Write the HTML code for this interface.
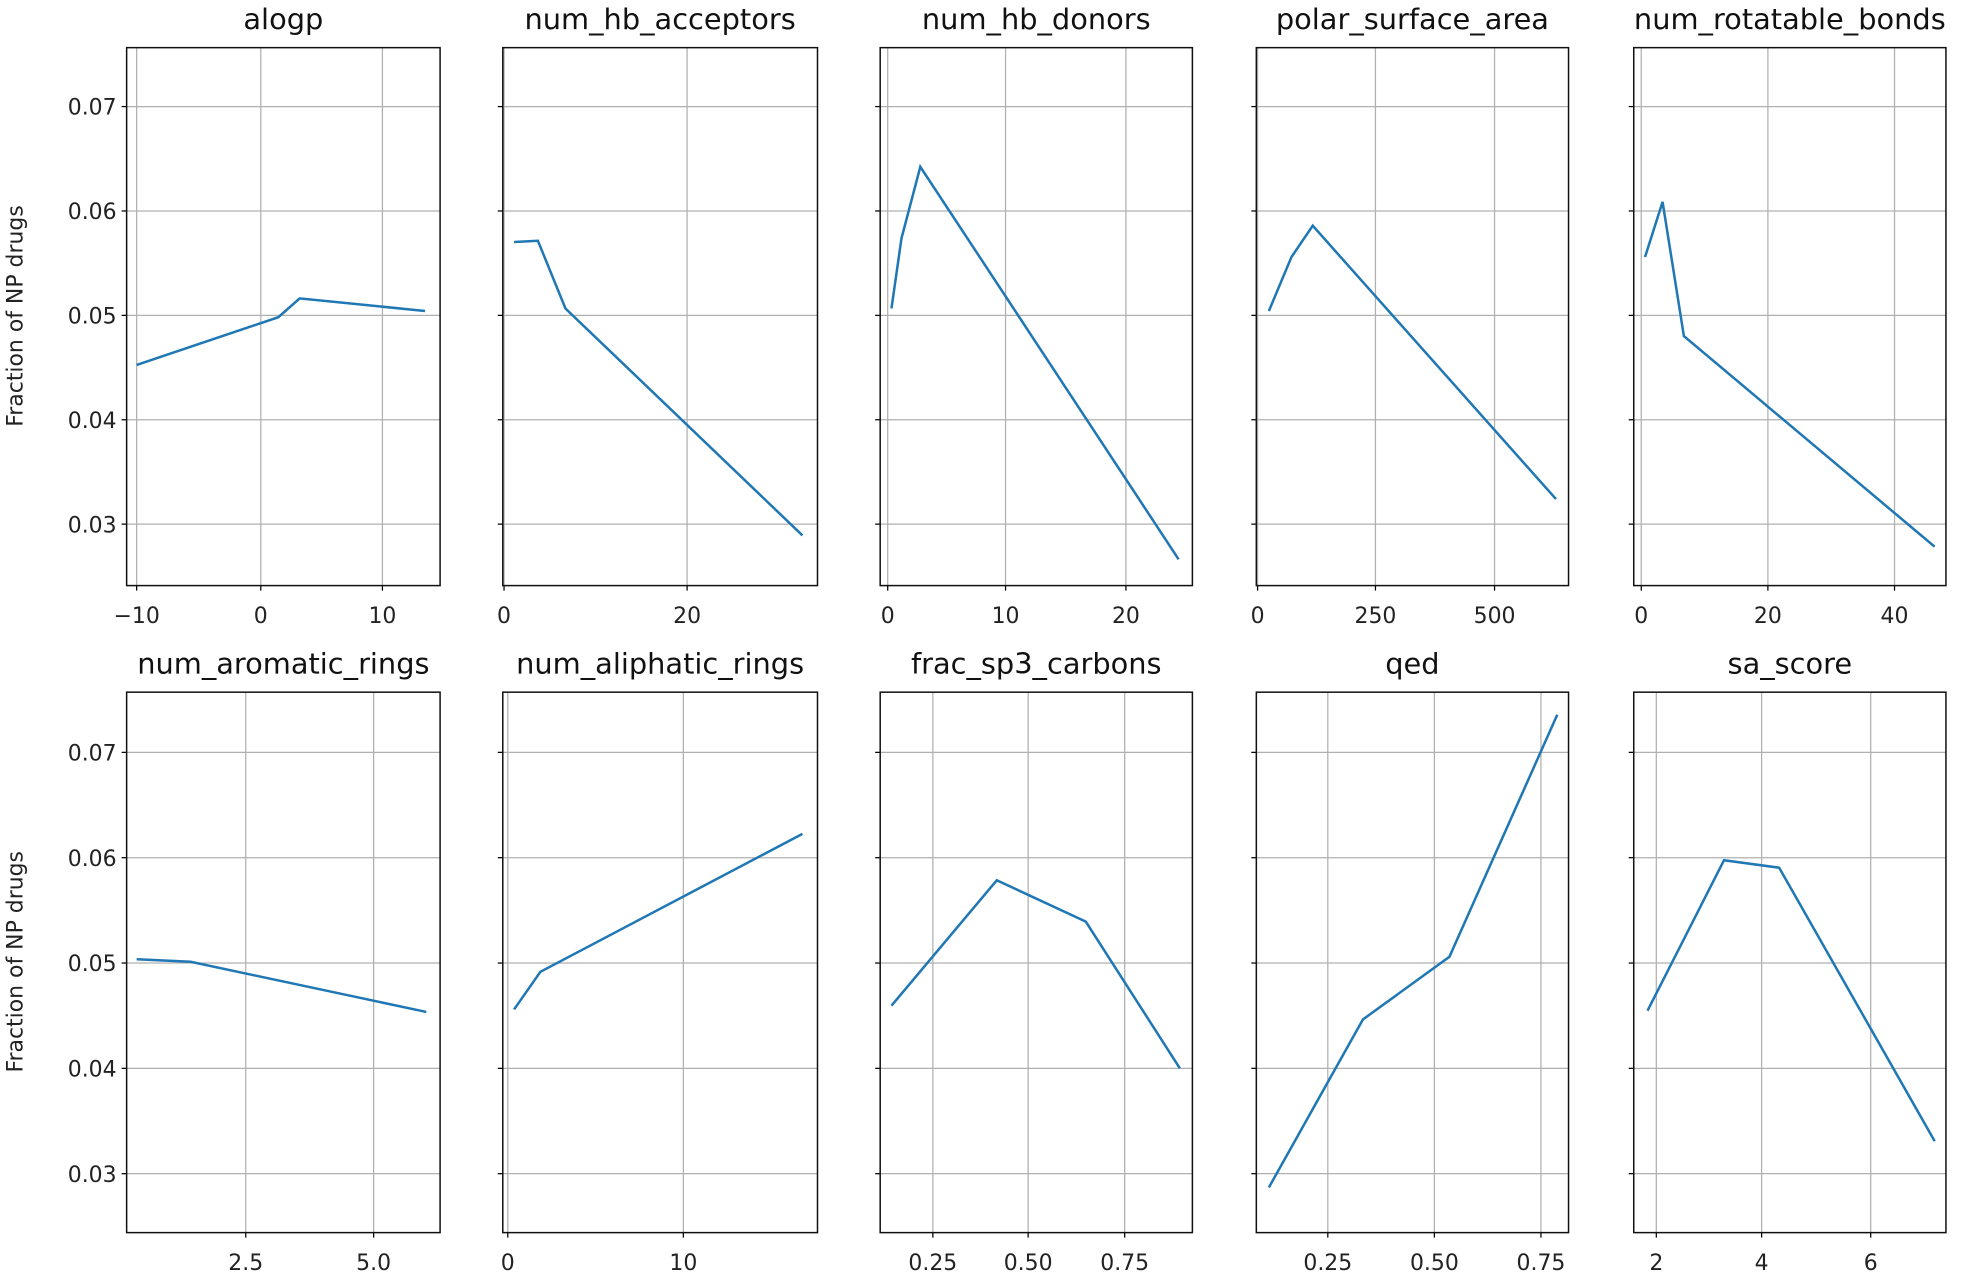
<!DOCTYPE html>
<html><head><meta charset="utf-8"><style>html,body{margin:0;padding:0;background:#fff}svg{display:block}</style></head>
<body>
<svg id="s" xmlns="http://www.w3.org/2000/svg" width="1966" height="1274" viewBox="0 0 1568 1016" preserveAspectRatio="none" font-family="'DejaVu Sans','Liberation Sans',sans-serif"></svg>
<script>
const cols=[[101,351],[401,652],[702,951],[1002,1251],[1303,1552]];
const rows=[{t:38,b:467,y:[85,168.25,251.5,334.75,418]},{t:552,b:983,y:[600,684,768,852,936]}];
const P=[
{n:"alogp",x:[[109,"−10"],[208,"0"],[305,"10"]],p:[[109,291],[222,253],[239,238],[339,248]]},
{n:"num_hb_acceptors",x:[[402,"0"],[548,"20"]],p:[[410,193],[429,192],[451,246],[640,427]]},
{n:"num_hb_donors",x:[[708,"0"],[802,"10"],[898,"20"]],p:[[711,246],[719,190],[734,133],[940,446]]},
{n:"polar_surface_area",x:[[1003,"0"],[1097,"250"],[1192,"500"]],p:[[1012,248],[1030,205],[1047,180],[1241,398]]},
{n:"num_rotatable_bonds",x:[[1309,"0"],[1410,"20"],[1511,"40"]],p:[[1312,205],[1326,161],[1343,268],[1543,436]]},
{n:"num_aromatic_rings",x:[[196,"2.5"],[298,"5.0"]],p:[[109,765],[152,767],[340,807]]},
{n:"num_aliphatic_rings",x:[[405,"0"],[545,"10"]],p:[[410,805],[431,775],[640,665]]},
{n:"frac_sp3_carbons",x:[[744,"0.25"],[820,"0.50"],[897,"0.75"]],p:[[711,802],[795,702],[866,735],[941,852]]},
{n:"qed",x:[[1059,"0.25"],[1144,"0.50"],[1229,"0.75"]],p:[[1012,947],[1087,813],[1156,763],[1242,570]]},
{n:"sa_score",x:[[1321,"2"],[1405,"4"],[1492,"6"]],p:[[1314,806],[1375,686],[1419,692],[1543,910]]}
];
let h="";
const yl=["0.07","0.06","0.05","0.04","0.03"];
P.forEach((d,i)=>{
 const c=cols[i%5],r=rows[Math.floor(i/5)];
 r.y.forEach((y,k)=>{h+=`<line x1="${c[0]}" x2="${c[1]}" y1="${y}" y2="${y}" stroke="#b0b0b0" stroke-width="1"/>`;
  h+=`<line x1="${c[0]-4}" x2="${c[0]}" y1="${y}" y2="${y}" stroke="#000" stroke-width="1"/>`;
  if(i%5==0)h+=`<text x="${c[0]-8}" y="${y+6.5}" font-size="17.5" text-anchor="end" fill="#222">${yl[k]}</text>`;});
 d.x.forEach(([x,l])=>{h+=`<line x1="${x}" x2="${x}" y1="${r.t}" y2="${r.b}" stroke="#b0b0b0" stroke-width="1"/>`;
  h+=`<line x1="${x}" x2="${x}" y1="${r.b}" y2="${r.b+4}" stroke="#000" stroke-width="1"/>`;
  h+=`<text x="${x}" y="${r.b+30}" font-size="17.5" text-anchor="middle" fill="#222">${l}</text>`;});
 h+=`<polyline points="${d.p.map(q=>q.join(",")).join(" ")}" fill="none" stroke="#1f77b4" stroke-width="2"/>`;
 h+=`<rect x="${c[0]}" y="${r.t}" width="${c[1]-c[0]}" height="${r.b-r.t}" fill="none" stroke="#111" stroke-width="1.2"/>`;
 h+=`<text x="${(c[0]+c[1])/2}" y="${r.t-15}" font-size="23" text-anchor="middle" fill="#111">${d.n}</text>`;
});
[252,767].forEach(y=>{h+=`<text transform="translate(18,${y}) rotate(-90)" font-size="17.5" text-anchor="middle" fill="#222">Fraction of NP drugs</text>`;});
document.getElementById("s").innerHTML=h;
</script>
</body></html>
